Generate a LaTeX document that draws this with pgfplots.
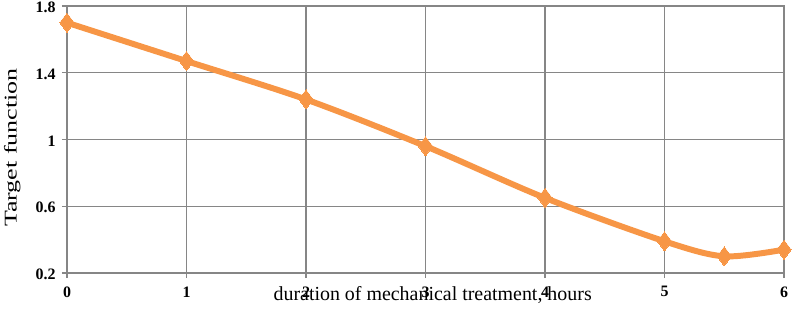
\documentclass[border=0pt]{standalone}
\usepackage{graphicx}
\usepackage{pgfplots}
\pgfplotsset{compat=1.18}
\usepackage{fontspec}
\setmainfont{Liberation Serif}
\definecolor{excelorange}{RGB}{247,150,70}
\definecolor{gridgray}{RGB}{134,134,134}
\newcommand{\hs}[1]{{\fontsize{16}{18}\selectfont\bfseries #1}}
\begin{document}
\begin{tikzpicture}
\path[use as bounding box] (-67bp,-40bp) rectangle (734bp,273bp);
\begin{axis}[
  scale only axis,
  width=717bp, height=267bp,
  xmin=0, xmax=6, ymin=0.2, ymax=1.8,
  xtick={0,1,2,3,4,5,6},
  xticklabels={\hs{0},\hs{1},\hs{2},\hs{3},\hs{4},\hs{5},\hs{6}},
  ytick={0.2,0.6,1,1.4,1.8},
  yticklabels={\hs{0.2},\hs{0.6},\hs{1},\hs{1.4},\hs{1.8}},
  grid=major,
  grid style={gridgray, line width=1.4pt},
  axis line style={gridgray, line width=1.4pt},
  tick style={gridgray, line width=1.4pt},
  tick align=outside,
  major tick length=5bp,
  axis x line*=bottom,
  axis y line*=left,
  xticklabel style={anchor=north, yshift=-5bp},
  yticklabel style={anchor=east, xshift=-3bp, yshift=-1.5bp},
  xlabel={duration of mechanical treatment, hours},
  ylabel={\scalebox{1.45}[1]{Target function}},
  xlabel style={font=\fontsize{20}{22}\selectfont, at={(axis description cs:0.51,0)}, anchor=north, yshift=-10bp},
  ylabel style={font=\fontsize{18}{20}\selectfont, at={(axis description cs:0,0.47)}, anchor=south, yshift=43bp},
  clip=false,
]
\draw[gridgray, line width=1.4pt] (axis cs:0,1.8) -- (axis cs:6,1.8) -- (axis cs:6,0.2);
\addplot[excelorange, line width=6pt, smooth, tension=0.5,
  mark=diamond*, mark size=9.5bp, mark options={fill=excelorange, draw=excelorange, line width=0pt}]
coordinates {
(0,1.70) (1,1.47) (2,1.24) (3,0.96) (4,0.65) (5,0.39) (5.5,0.30) (6,0.34)
};
\end{axis}
\end{tikzpicture}
\end{document}
